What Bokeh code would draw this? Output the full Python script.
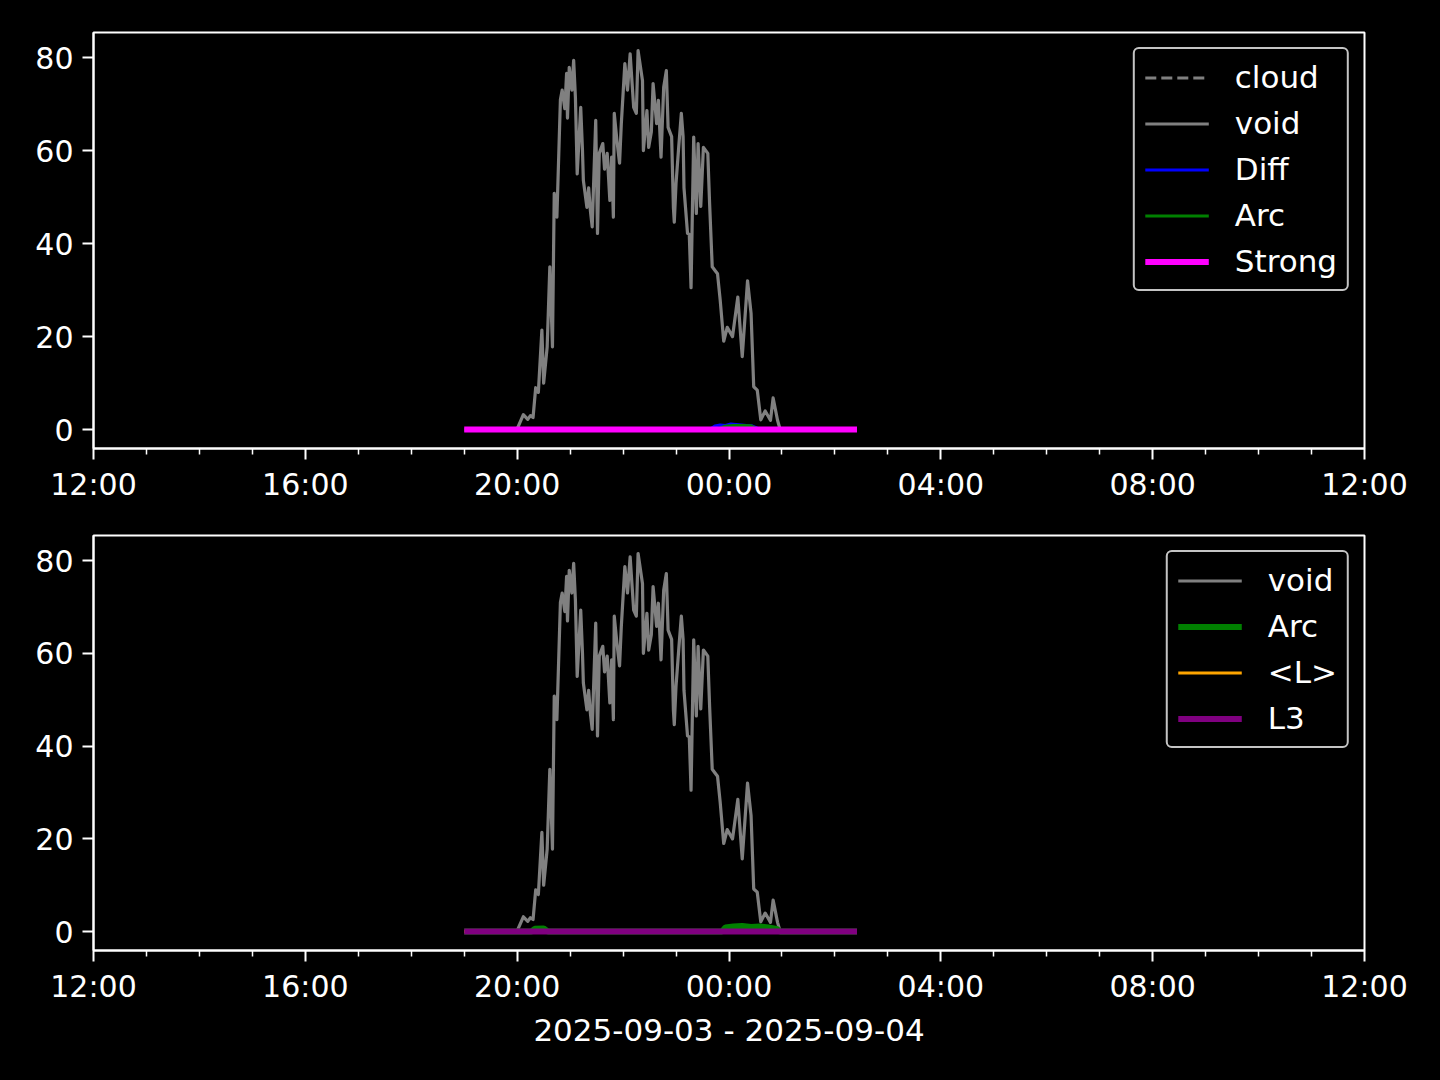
import pandas as pd
from bokeh.plotting import figure
from bokeh.layouts import column
from bokeh.models import Range1d, FixedTicker, DatetimeTickFormatter
from bokeh.embed import file_html
from bokeh.resources import INLINE

# ---------------- data ----------------
void_time = ["19:00", "19:30", "20:00", "20:01", "20:07", "20:12", "20:15", "20:18", "20:21", "20:24",
             "20:28", "20:30", "20:34", "20:37", "20:40", "20:42", "20:45", "20:49", "20:51", "20:54",
             "20:56", "20:57", "20:59", "21:02", "21:04", "21:06", "21:08", "21:12", "21:14", "21:15",
             "21:19", "21:21", "21:23", "21:25", "21:29", "21:31", "21:33", "21:37", "21:39", "21:42",
             "21:45", "21:47", "21:49", "21:50", "21:53", "21:56", "21:58", "22:02", "22:05", "22:08",
             "22:12", "22:15", "22:17", "22:22", "22:23", "22:27", "22:29", "22:32", "22:34", "22:38",
             "22:40", "22:43", "22:46", "22:49", "22:51", "22:55", "22:57", "22:58", "23:00", "23:03",
             "23:06", "23:08", "23:09", "23:13", "23:15", "23:17", "23:20", "23:23", "23:25", "23:28",
             "23:31", "23:36", "23:38", "23:41", "23:45", "23:47", "23:50", "23:54", "23:58", "00:04",
             "00:10", "00:15", "00:21", "00:25", "00:28", "00:32", "00:36", "00:41", "00:47", "00:50",
             "00:55", "00:58", "01:30", "02:00", "02:25"]
void_vals = [0, 0, 0, 0.6, 3.2, 2.2, 3.0, 2.6, 9.0, 8.0,
             21.4, 10.0, 17.8, 35.0, 17.8, 50.8, 45.7, 71.0, 73.0, 69.0,
             76.6, 67.0, 77.9, 73.0, 79.4, 71.4, 55.0, 69.3, 60.0, 53.6,
             47.8, 52.0, 47.0, 43.6, 66.5, 42.2, 59.4, 61.5, 56.0, 59.4,
             49.3, 58.6, 45.7, 68.0, 62.2, 57.3, 65.8, 78.7, 73.0, 80.8,
             69.3, 68.0, 81.5, 75.0, 60.0, 68.6, 60.7, 64.0, 74.4, 65.8,
             70.8, 58.6, 73.6, 77.2, 65.0, 63.0, 47.8, 44.6, 53.0, 60.7,
             68.0, 63.0, 52.0, 42.2, 42.0, 30.5, 62.9, 46.5, 61.5, 48.0,
             60.7, 59.4, 48.7, 35.0, 34.0, 33.5, 27.9, 19.0, 22.0, 20.0,
             28.5, 15.7, 32.0, 25.0, 9.2, 8.5, 2.1, 4.0, 2.0, 6.8,
             2.0, 0, 0, 0, 0]

base_time = ["19:00", "20:00", "21:00", "22:00", "23:00", "00:00", "01:00", "02:00", "02:25"]
cloud_vals = [0, 0, 0, 0, 0, 0, 0, 0, 0]
strong_vals = [0, 0, 0, 0, 0, 0, 0, 0, 0]
l_mean_vals = [0, 0, 0, 0, 0, 0, 0, 0, 0]
l3_vals = [0, 0, 0, 0, 0, 0, 0, 0, 0]

diff_time = ["19:00", "23:38", "23:44", "23:50", "23:56", "00:02", "00:08", "00:14", "00:20", "00:26",
             "00:32", "00:36", "02:25"]
diff_vals = [0, 0, 0.8, 1.0, 0.9, 1.2, 1.1, 1.0, 0.9, 0.8, 0.3, 0, 0]

arc_top_time = ["19:00", "23:46", "23:55", "00:05", "00:15", "00:25", "00:33", "02:25"]
arc_top_vals = [0, 0, 0.7, 0.9, 0.9, 0.8, 0, 0]

arc_bot_time = ["19:00", "20:16", "20:20", "20:30", "20:35", "23:52", "23:56", "00:05", "00:15", "00:25",
                "00:35", "00:45", "00:54", "00:58", "02:25"]
arc_bot_vals = [0, 0, 0.6, 0.7, 0, 0, 0.9, 1.1, 1.2, 1.0, 1.1, 0.9, 0.6, 0, 0]

major_ticks = ["12:00", "16:00", "20:00", "00:00", "04:00", "08:00", "12:00+"]
minor_ticks = ["13:00", "14:00", "15:00", "17:00", "18:00", "19:00", "21:00", "22:00", "23:00",
               "01:00", "02:00", "03:00", "05:00", "06:00", "07:00", "09:00", "10:00", "11:00"]
y_ticks = [0, 20, 40, 60, 80]
x_label = "2025-09-03 - 2025-09-04"


def to_dt(hhmm):
    if hhmm.endswith("+"):
        return pd.Timestamp("2025-09-04 " + hhmm[:-1])
    h = int(hhmm.split(":")[0])
    day = "2025-09-03" if h >= 12 else "2025-09-04"
    return pd.Timestamp(day + " " + hhmm)


def to_ms(hhmm):
    return to_dt(hhmm).value // 10**6


def dts(lst):
    return [to_dt(t) for t in lst]


FONT = "DejaVu Sans"
FS = "30px"
FS_BIG = "31px"
x_start = to_dt("12:00")
x_end = to_dt("12:00+")


def make_fig(height, top, bottom):
    p = figure(width=1432, height=height, x_axis_type="datetime",
               output_backend="svg", toolbar_location=None,
               x_range=Range1d(x_start, x_end), y_range=Range1d(-4.07, 85.4),
               min_border_left=93, min_border_right=68,
               min_border_top=top, min_border_bottom=bottom)
    p.background_fill_color = "black"
    p.border_fill_color = "black"
    p.outline_line_color = "white"
    p.outline_line_width = 2
    p.xgrid.visible = False
    p.ygrid.visible = False
    p.xaxis.ticker = FixedTicker(ticks=[to_ms(t) for t in major_ticks],
                                 minor_ticks=[to_ms(t) for t in minor_ticks])
    fmt = "%H:%M"
    p.xaxis.formatter = DatetimeTickFormatter(hours=fmt, hourmin=fmt, days=fmt, minutes=fmt,
                                              minsec=fmt, months=fmt, years=fmt)
    p.yaxis.ticker = FixedTicker(ticks=y_ticks)
    for ax in (p.xaxis[0], p.yaxis[0]):
        ax.axis_line_color = "white"
        ax.axis_line_width = 2
        ax.major_tick_line_color = "white"
        ax.major_tick_line_width = 2
        ax.major_tick_out = 11
        ax.major_tick_in = 0
        ax.minor_tick_line_color = "white"
        ax.minor_tick_line_width = 1.5
        ax.minor_tick_out = 6
        ax.minor_tick_in = 0
        ax.major_label_text_color = "white"
        ax.major_label_text_font = FONT
        ax.major_label_text_font_size = FS
        ax.major_label_standoff = 7
    p.yaxis.major_label_standoff = 9
    p.yaxis.minor_tick_line_color = None
    return p


def style_legend(p):
    lg = p.legend[0]
    lg.location = "top_right"
    lg.margin = 15
    lg.padding = 10
    lg.spacing = 10
    lg.glyph_width = 64
    lg.glyph_height = 35
    lg.label_height = 35
    lg.label_standoff = 26
    lg.label_text_font = FONT
    lg.label_text_font_size = FS_BIG
    lg.label_text_color = "white"
    lg.background_fill_color = "black"
    lg.background_fill_alpha = 0.8
    lg.border_line_color = "#c4c4c4"
    lg.border_line_alpha = 1.0
    lg.border_line_width = 2.5
    if "border_radius" in lg.properties():
        lg.border_radius = 6


# ---------------- top panel ----------------
p1 = make_fig(510, 32, 62)
p1.line(dts(base_time), cloud_vals, color="#808080", line_width=3, line_dash="11 5",
        legend_label="cloud")
p1.line(dts(void_time), void_vals, color="#808080", line_width=3.2, line_join="round",
        legend_label="void")
p1.line(dts(diff_time), diff_vals, color="#0000ff", line_width=3, legend_label="Diff")
p1.line(dts(arc_top_time), arc_top_vals, color="#008000", line_width=3, legend_label="Arc")
p1.line(dts(base_time), strong_vals, color="#ff00ff", line_width=6, legend_label="Strong")
style_legend(p1)

# ---------------- bottom panel ----------------
p2 = make_fig(554, 25, 114)
p2.line(dts(void_time), void_vals, color="#808080", line_width=3.2, line_join="round",
        legend_label="void")
p2.line(dts(arc_bot_time), arc_bot_vals, color="#008000", line_width=6, legend_label="Arc")
p2.line(dts(base_time), l_mean_vals, color="#ffa500", line_width=3, legend_label="<L>")
p2.line(dts(base_time), l3_vals, color="#800080", line_width=6, legend_label="L3")
style_legend(p2)
p2.xaxis.axis_label = x_label
p2.xaxis.axis_label_text_font = FONT
p2.xaxis.axis_label_text_font_size = FS_BIG
p2.xaxis.axis_label_text_font_style = "normal"
p2.xaxis.axis_label_text_color = "white"
p2.xaxis.axis_label_standoff = 5

layout = column(p1, p2, spacing=0)
layout.styles = {"background-color": "black"}

html = file_html(layout, INLINE)
html = html.replace("<head>", "<head><style>html,body{background:#000000;}</style>", 1)
open("out.html", "w").write(html)
